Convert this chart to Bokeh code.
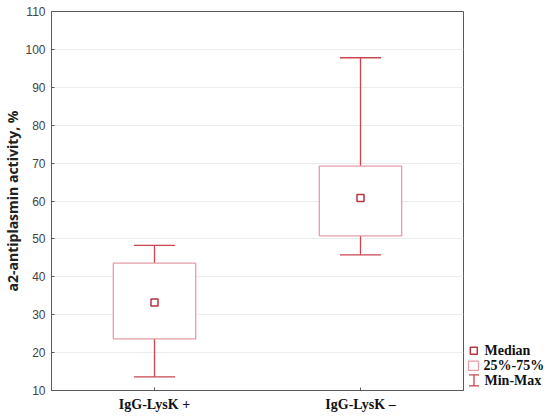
from bokeh.plotting import figure
from bokeh.models import FactorRange, Range1d, ColumnDataSource, FixedTicker
from bokeh.transform import dodge
from bokeh.layouts import row
from bokeh.core.properties import value
from bokeh.embed import file_html
from bokeh.resources import INLINE

# ---- data ----
categories = ["IgG-LysK +", "IgG-LysK –"]
mins = [13.6, 45.8]
q1 = [23.6, 50.8]
medians = [33.2, 60.8]
q3 = [43.6, 69.2]
maxs = [48.3, 97.8]
y_ticks = [10, 20, 30, 40, 50, 60, 70, 80, 90, 100, 110]
y_label = "a2-antiplasmin activity, %"
legend_labels = ["Median", "25%-75%", "Min-Max"]

WHISK = "#c9464f"
BOXC = "#e39ea6"
MEDC = "#b8323f"
AXC = "#5a5a5a"

H = 414

src = ColumnDataSource(dict(cat=categories, lo=mins, q1=q1, med=medians, q3=q3, hi=maxs))

p = figure(x_range=FactorRange(factors=categories, range_padding=0),
           y_range=Range1d(10, 110), width=466, height=H,
           output_backend="svg", toolbar_location=None,
           min_border_left=51, min_border_right=3, min_border_top=11, min_border_bottom=23)
p.outline_line_color = AXC
p.outline_line_width = 1
p.xgrid.visible = False
p.ygrid.ticker = FixedTicker(ticks=y_ticks)
p.ygrid.grid_line_color = "#ececec"

ya = p.yaxis[0]
ya.ticker = FixedTicker(ticks=y_ticks)
ya.axis_label = y_label
ya.axis_label_text_font = "Open Sans"
ya.axis_label_text_font_style = "bold"
ya.axis_label_text_font_size = "14px"
ya.axis_label_text_color = "#222222"
ya.axis_label_standoff = 0
ya.major_label_text_font = "Liberation Sans"
ya.major_label_text_font_size = "12px"
ya.major_label_text_color = "#444444"
ya.major_label_standoff = 6
ya.major_tick_in = 3
ya.major_tick_out = 0
ya.minor_tick_line_color = None
ya.axis_line_color = AXC
ya.major_tick_line_color = AXC

xa = p.xaxis[0]
xa.major_label_text_font = "Liberation Serif"
xa.major_label_text_font_style = "bold"
xa.major_label_text_font_size = "14px"
xa.major_label_text_color = "#111111"
xa.major_label_standoff = 6
xa.major_tick_in = 3
xa.major_tick_out = 0
xa.axis_line_color = AXC
xa.major_tick_line_color = AXC

# whiskers
p.segment(x0="cat", y0="q3", x1="cat", y1="hi", source=src, line_color=WHISK, line_width=1.3)
p.segment(x0="cat", y0="lo", x1="cat", y1="q1", source=src, line_color=WHISK, line_width=1.3)
p.segment(x0=dodge("cat", -0.1, range=p.x_range), y0="hi",
          x1=dodge("cat", 0.1, range=p.x_range), y1="hi", source=src, line_color=WHISK, line_width=1.3)
p.segment(x0=dodge("cat", -0.1, range=p.x_range), y0="lo",
          x1=dodge("cat", 0.1, range=p.x_range), y1="lo", source=src, line_color=WHISK, line_width=1.3)
# boxes
p.vbar(x="cat", width=0.4, bottom="q1", top="q3", source=src,
       fill_color="white", line_color=BOXC, line_width=1.3)
# medians
p.scatter(x="cat", y="med", source=src, marker="square", size=7,
          fill_color="white", line_color=MEDC, line_width=1.5)

# ---- legend panel ----
lf = figure(width=80, height=H, x_range=Range1d(0, 80), y_range=Range1d(H, 0),
            output_backend="svg", toolbar_location=None, min_border=0)
lf.axis.visible = False
lf.grid.visible = False
lf.outline_line_color = None
lf.scatter(x=[7.3], y=[370.7], marker="square", size=7, fill_color="white",
           line_color=MEDC, line_width=1.5)
lf.quad(left=[2], right=[12], top=[382], bottom=[392], fill_color="white",
        line_color=BOXC, line_width=1.3)
lf.segment(x0=[7.5], y0=[397], x1=[7.5], y1=[409], line_color=WHISK, line_width=1.3)
lf.segment(x0=[2.5, 2.5], y0=[397, 409], x1=[12.5, 12.5], y1=[397, 409],
           line_color=WHISK, line_width=1.3)
lf.text(x=[18, 17, 18], y=[370.5, 386.7, 402.7], text=legend_labels,
        text_font=value("Liberation Serif"), text_font_style="bold",
        text_font_size="14px", text_baseline="middle", text_color="#111111")

layout = row(p, lf)
open("out.html", "w").write(file_html(layout, INLINE))
